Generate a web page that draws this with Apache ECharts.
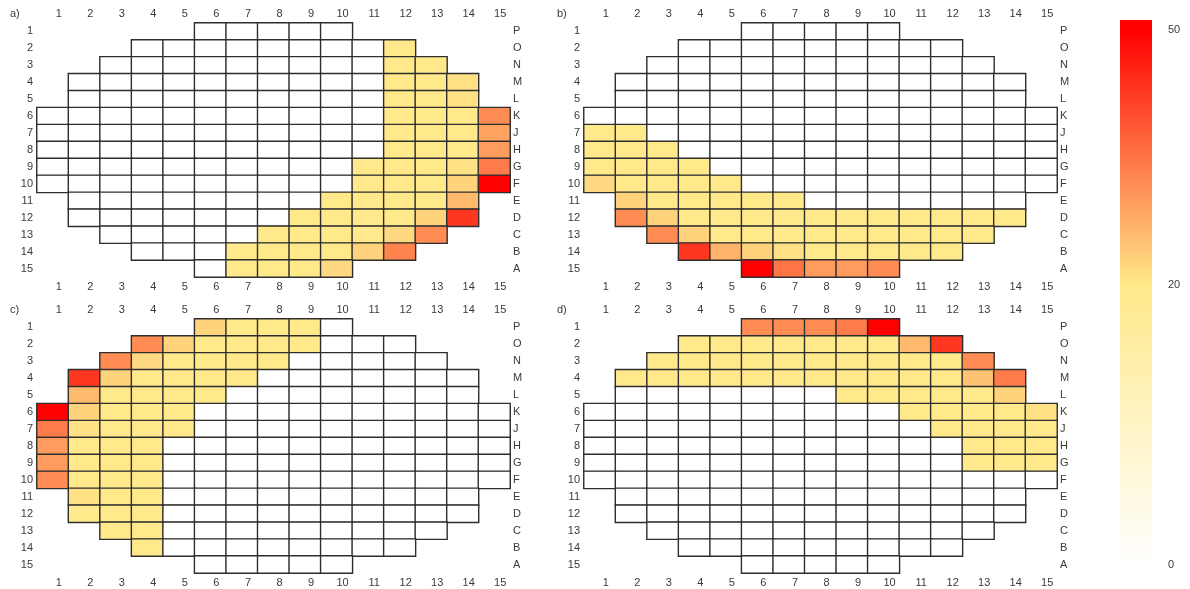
<!DOCTYPE html>
<html>
<head>
<meta charset="utf-8">
<script src="https://cdn.jsdelivr.net/npm/echarts@6/dist/echarts.min.js"></script>
<style>
html,body{margin:0;padding:0;background:#fff;}
#chart{width:1190px;height:589px;}
</style>
</head>
<body>
<div id="chart"></div>
<script>
// ---- categories ----
const colLabels = ['1','2','3','4','5','6','7','8','9','10','11','12','13','14','15'];
const rowLabels = ['1','2','3','4','5','6','7','8','9','10','11','12','13','14','15'];
const rowLetters = ['P','O','N','M','L','K','J','H','G','F','E','D','C','B','A'];
// wafer outline: first and last column present in each row
const waferStart = [6,4,3,2,2,1,1,1,1,1,2,2,3,4,6];
const waferEnd   = [10,12,13,14,14,15,15,15,15,15,14,14,13,12,10];
const panelNames = ['a)','b)','c)','d)'];
const scaleTicks = [0,20,50];

// ---- values (rows 1..15, columns 1..15); 0 = blank cell ----
const panelA = [
  [0,0,0,0,0,0,0,0,0,0,0,0,0,0,0],
  [0,0,0,0,0,0,0,0,0,0,0,20,0,0,0],
  [0,0,0,0,0,0,0,0,0,0,0,20,20,0,0],
  [0,0,0,0,0,0,0,0,0,0,0,20,20,21,0],
  [0,0,0,0,0,0,0,0,0,0,0,20,20,21,0],
  [0,0,0,0,0,0,0,0,0,0,0,20,20,20,32],
  [0,0,0,0,0,0,0,0,0,0,0,20,20,20,29],
  [0,0,0,0,0,0,0,0,0,0,0,20,20,20,30],
  [0,0,0,0,0,0,0,0,0,0,20,20,20,21,34],
  [0,0,0,0,0,0,0,0,0,0,20,20,20,23,50],
  [0,0,0,0,0,0,0,0,0,20,20,20,20,26,0],
  [0,0,0,0,0,0,0,0,20,20,20,20,23,43,0],
  [0,0,0,0,0,0,0,20,20,20,20,22,32,0,0],
  [0,0,0,0,0,0,20,20,20,20,23,33,0,0,0],
  [0,0,0,0,0,0,20,20,20,22,0,0,0,0,0]
];
const panelB = [
  [0,0,0,0,0,0,0,0,0,0,0,0,0,0,0],
  [0,0,0,0,0,0,0,0,0,0,0,0,0,0,0],
  [0,0,0,0,0,0,0,0,0,0,0,0,0,0,0],
  [0,0,0,0,0,0,0,0,0,0,0,0,0,0,0],
  [0,0,0,0,0,0,0,0,0,0,0,0,0,0,0],
  [0,0,0,0,0,0,0,0,0,0,0,0,0,0,0],
  [20,20,0,0,0,0,0,0,0,0,0,0,0,0,0],
  [20,20,20,0,0,0,0,0,0,0,0,0,0,0,0],
  [20,20,20,20,0,0,0,0,0,0,0,0,0,0,0],
  [22,20,20,20,20,0,0,0,0,0,0,0,0,0,0],
  [0,23,20,20,20,20,20,0,0,0,0,0,0,0,0],
  [0,32,23,20,20,20,20,20,20,20,20,20,20,20,0],
  [0,0,32,23,20,20,20,20,20,20,20,20,20,0,0],
  [0,0,0,43,27,23,21,20,20,20,20,20,0,0,0],
  [0,0,0,0,0,50,35,30,30,32,0,0,0,0,0]
];
const panelC = [
  [0,0,0,0,0,23,20,20,20,0,0,0,0,0,0],
  [0,0,0,32,23,20,20,20,20,0,0,0,0,0,0],
  [0,0,32,22,20,20,20,20,0,0,0,0,0,0,0],
  [0,43,23,20,20,20,20,0,0,0,0,0,0,0,0],
  [0,26,20,20,20,20,0,0,0,0,0,0,0,0,0],
  [50,23,20,20,20,0,0,0,0,0,0,0,0,0,0],
  [34,21,20,20,20,0,0,0,0,0,0,0,0,0,0],
  [30,20,20,20,0,0,0,0,0,0,0,0,0,0,0],
  [30,20,20,20,0,0,0,0,0,0,0,0,0,0,0],
  [32,20,20,20,0,0,0,0,0,0,0,0,0,0,0],
  [0,21,20,20,0,0,0,0,0,0,0,0,0,0,0],
  [0,20,20,20,0,0,0,0,0,0,0,0,0,0,0],
  [0,0,20,20,0,0,0,0,0,0,0,0,0,0,0],
  [0,0,0,20,0,0,0,0,0,0,0,0,0,0,0],
  [0,0,0,0,0,0,0,0,0,0,0,0,0,0,0]
];
const panelD = [
  [0,0,0,0,0,32,32,32,34,50,0,0,0,0,0],
  [0,0,0,20,20,20,20,20,20,20,26,43,0,0,0],
  [0,0,20,20,20,20,20,20,20,20,20,20,32,0,0],
  [0,20,20,20,20,20,20,20,20,20,20,20,25,34,0],
  [0,0,0,0,0,0,0,0,20,20,20,20,20,23,0],
  [0,0,0,0,0,0,0,0,0,0,20,20,20,20,21],
  [0,0,0,0,0,0,0,0,0,0,0,20,20,20,20],
  [0,0,0,0,0,0,0,0,0,0,0,0,20,20,20],
  [0,0,0,0,0,0,0,0,0,0,0,0,20,20,20],
  [0,0,0,0,0,0,0,0,0,0,0,0,0,0,0],
  [0,0,0,0,0,0,0,0,0,0,0,0,0,0,0],
  [0,0,0,0,0,0,0,0,0,0,0,0,0,0,0],
  [0,0,0,0,0,0,0,0,0,0,0,0,0,0,0],
  [0,0,0,0,0,0,0,0,0,0,0,0,0,0,0],
  [0,0,0,0,0,0,0,0,0,0,0,0,0,0,0]
];
const panels = [panelA, panelB, panelC, panelD];

// ---- colour scale: value stops and colours (white -> yellow at 20 -> red at 50) ----
const scaleValues = [0,10,20,30,40,50];
const scaleColors = ['#ffffff','#fff4c5','#ffe98a','#ff9b5c','#ff4e2e','#ff0000'];

// ---- layout ----
const gridPos = [
  {left:37, top:23}, {left:584, top:23},
  {left:37, top:319}, {left:584, top:319}
];
const GW = 473, GH = 254;
const FONT = 'Liberation Sans';
const TXT = '#3a3a3a';

const grids = [], xAxes = [], yAxes = [], series = [], graphics = [];
panels.forEach((p, i) => {
  grids.push({left: gridPos[i].left, top: gridPos[i].top, width: GW, height: GH});
  const lab = {fontSize: 11, color: TXT, fontFamily: FONT, interval: 0};
  const common = {type: 'category', gridIndex: i, axisLine: {show:false}, axisTick: {show:false}, splitLine: {show:false}};
  xAxes.push(Object.assign({}, common, {data: colLabels, position: 'bottom', axisLabel: Object.assign({margin: 4, padding: [0,0,0,12]}, lab)}));
  xAxes.push(Object.assign({}, common, {data: colLabels, position: 'top', axisLabel: Object.assign({margin: 4, padding: [0,0,0,12]}, lab)}));
  yAxes.push(Object.assign({}, common, {data: rowLabels, inverse: true, position: 'left', axisLabel: Object.assign({margin: 4}, lab)}));
  yAxes.push(Object.assign({}, common, {data: rowLetters, inverse: true, position: 'right', axisLabel: Object.assign({margin: 3}, lab)}));
  const data = [];
  for (let r = 0; r < 15; r++) {
    for (let c = waferStart[r] - 1; c <= waferEnd[r] - 1; c++) {
      data.push([c, r, p[r][c]]);
    }
  }
  series.push({
    type: 'heatmap', xAxisIndex: i * 2, yAxisIndex: i * 2, data: data,
    itemStyle: {borderColor: '#2e2e2e', borderWidth: 1.4},
    emphasis: {disabled: true}, silent: true, animation: false
  });
  graphics.push({type: 'text', left: gridPos[i].left - 27, top: gridPos[i].top - 15,
    style: {text: panelNames[i], font: '11px ' + FONT, fill: TXT}});
});

// colour bar (legend), 50 at y=30, 20 at y=285, 0 at y=565
const barTop = 20, barH = 555, barX = 1120, barW = 32;
const tickY = {50: 30, 20: 285, 0: 565};
function valueY(v) {
  return v >= 20 ? tickY[20] - (v - 20) / 30 * (tickY[20] - tickY[50])
                 : tickY[0] - v / 20 * (tickY[0] - tickY[20]);
}
const stops = scaleValues.map((v, k) => ({offset: (valueY(v) - barTop) / barH, color: scaleColors[k]})).reverse();
graphics.push({type: 'rect', shape: {x: barX, y: barTop, width: barW, height: barH},
  style: {fill: {type: 'linear', x: 0, y: 0, x2: 0, y2: 1, colorStops: stops}}});
scaleTicks.forEach(v => {
  graphics.push({type: 'text', x: 1168, y: tickY[v] - 6,
    style: {text: String(v), font: '11px ' + FONT, fill: TXT}});
});

const chart = echarts.init(document.getElementById('chart'), null, {renderer: 'canvas'});
chart.setOption({
  animation: false,
  backgroundColor: '#fff',
  grid: grids, xAxis: xAxes, yAxis: yAxes, series: series,
  visualMap: {type: 'continuous', show: false, min: 0, max: 50, seriesIndex: [0,1,2,3], dimension: 2,
    inRange: {color: scaleColors}},
  graphic: graphics
});
</script>
</body>
</html>
